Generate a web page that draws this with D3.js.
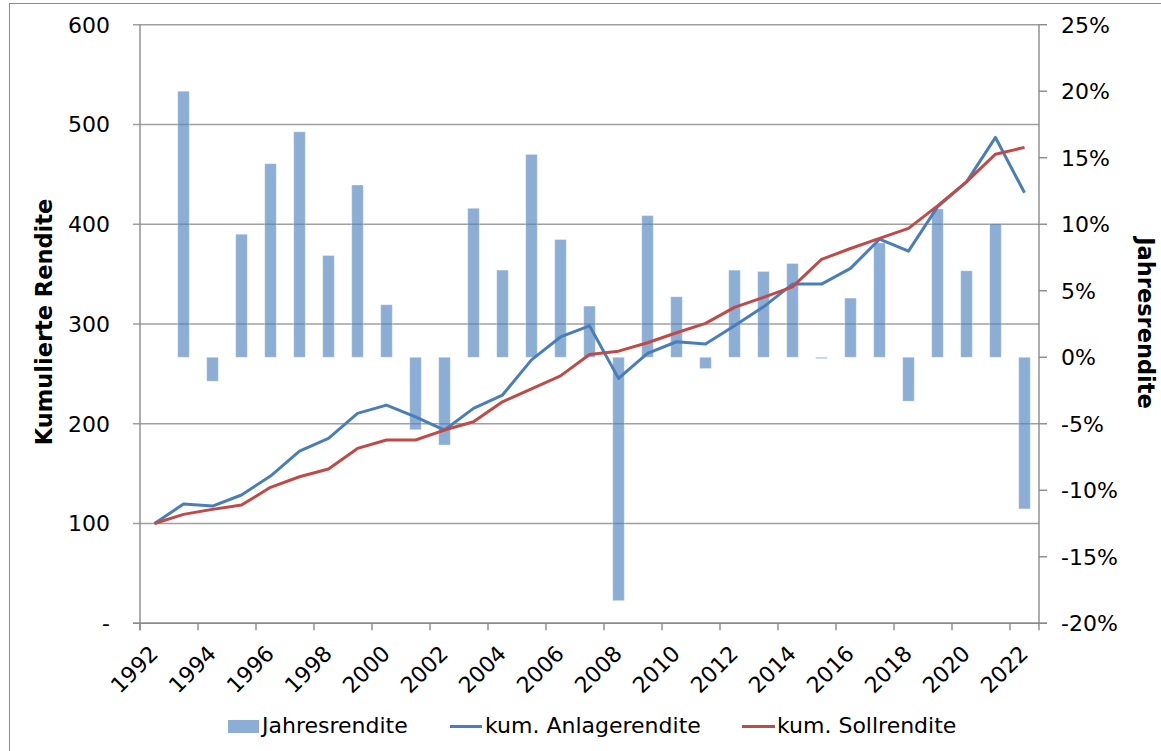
<!DOCTYPE html>
<html>
<head>
<meta charset="utf-8">
<script src="https://cdn.jsdelivr.net/npm/d3@7"></script>
<style>
  body { margin: 0; background: #fff; }
  text { font-family: "DejaVu Sans", Verdana, sans-serif; fill: #000; }
</style>
</head>
<body>
<svg id="chart" width="1161" height="751"></svg>
<script>
// data
var years = d3.range(1992, 2023);
var jahresrendite = [null, 20.0, -1.8, 9.25, 14.55, 16.95, 7.65, 12.95, 3.95, -5.45, -6.6,
  11.2, 6.55, 15.25, 8.85, 3.85, -18.3, 10.65, 4.55, -0.85, 6.55,
  6.45, 7.05, -0.1, 4.45, 8.6, -3.3, 11.15, 6.5, 10.05, -11.4];
var anlagerendite = [100, 119.5, 117.5, 128.6, 147.6, 172.6, 185.3, 210.4, 218.7, 207, 193.7,
  215.4, 228.8, 264, 287, 298.2, 245.5, 270.5, 282.2, 279.9, 298.2,
  317.2, 340, 340, 355.7, 385, 373, 417.4, 442.5, 487, 431.5];
var sollrendite = [100, 109.2, 114.2, 118.5, 136.3, 146.9, 154.6, 175.3, 183.7, 183.7, 193.7,
  202, 222, 235, 248, 269.5, 272.8, 281.2, 291.2, 300.6, 316.6,
  326.7, 337.3, 364.7, 375.7, 385.8, 395.8, 418.4, 442.5, 470.2, 477];
var leftTicks = [0, 100, 200, 300, 400, 500, 600];
var rightTicks = [-20, -15, -10, -5, 0, 5, 10, 15, 20, 25];
var xLabelYears = d3.range(1992, 2023, 2);

var svg = d3.select("#chart");

var plotL = 140, plotR = 1039, plotT = 24.7, plotB = 623.3;
var fs = 22;

var x = d3.scaleBand().domain(years).range([plotL, plotR]).padding(0);
var xEdge = d3.scaleLinear().domain([1992, 2023]).range([plotL, plotR]);
var yL = d3.scaleLinear().domain([0, 600]).range([plotB, plotT]);
var yR = d3.scaleLinear().domain([-20, 25]).range([plotB, plotT]);

// outer frame
svg.append("rect")
    .attr("x", 9.5).attr("y", 3.5)
    .attr("width", 1170).attr("height", 760)
    .attr("fill", "none").attr("stroke", "#8c8c8c").attr("stroke-width", 1);

// gridlines (with the left tick stubs)
svg.append("g")
    .selectAll("line")
    .data(leftTicks)
    .enter().append("line")
    .attr("x1", plotL - 7).attr("x2", plotR)
    .attr("y1", function (d) { return yL(d); })
    .attr("y2", function (d) { return yL(d); })
    .attr("stroke", "#a0a0a0")
    .attr("stroke-width", 1.4);

// bars
var bw = x.bandwidth() * 0.4;
svg.append("g")
    .selectAll("rect")
    .data(years.map(function (yr, i) { return { year: yr, v: jahresrendite[i] }; })
        .filter(function (d) { return d.v !== null; }))
    .enter().append("rect")
    .attr("x", function (d) { return x(d.year) + x.bandwidth() / 2 - bw / 2; })
    .attr("width", bw)
    .attr("y", function (d) { return yR(Math.max(0, d.v)); })
    .attr("height", function (d) { return Math.max(1, Math.abs(yR(d.v) - yR(0))); })
    .attr("fill", "rgba(79,129,189,0.65)")
    .attr("stroke", "rgba(255,255,255,0.35)")
    .attr("stroke-width", 1);

// axis lines
var axisColor = "#8a8a8a";
svg.append("line").attr("x1", plotL).attr("x2", plotL).attr("y1", plotT).attr("y2", plotB + 7)
    .attr("stroke", axisColor).attr("stroke-width", 1.4);
svg.append("line").attr("x1", plotR).attr("x2", plotR).attr("y1", plotT).attr("y2", plotB + 7)
    .attr("stroke", axisColor).attr("stroke-width", 1.4);
svg.append("line").attr("x1", plotL - 7).attr("x2", plotR + 8).attr("y1", plotB).attr("y2", plotB)
    .attr("stroke", axisColor).attr("stroke-width", 1.4);

// x ticks at category edges
svg.append("g")
    .selectAll("line")
    .data(xLabelYears)
    .enter().append("line")
    .attr("x1", function (d) { return xEdge(d); })
    .attr("x2", function (d) { return xEdge(d); })
    .attr("y1", plotB).attr("y2", plotB + 7)
    .attr("stroke", axisColor).attr("stroke-width", 1.4);

// right ticks
svg.append("g")
    .selectAll("line")
    .data(rightTicks)
    .enter().append("line")
    .attr("x1", plotR).attr("x2", plotR + 8)
    .attr("y1", function (d) { return yR(d); })
    .attr("y2", function (d) { return yR(d); })
    .attr("stroke", axisColor).attr("stroke-width", 1.4);

// left labels
svg.append("g")
    .selectAll("text")
    .data(leftTicks)
    .enter().append("text")
    .attr("x", 110)
    .attr("y", function (d) { return yL(d); })
    .attr("dy", "0.36em")
    .attr("text-anchor", "end")
    .attr("font-size", fs)
    .text(function (d) { return d === 0 ? "-" : d; });

// right labels
svg.append("g")
    .selectAll("text")
    .data(rightTicks)
    .enter().append("text")
    .attr("x", 1061)
    .attr("y", function (d) { return yR(d); })
    .attr("dy", "0.36em")
    .attr("font-size", fs)
    .text(function (d) { return d + "%"; });

// x labels
svg.append("g")
    .selectAll("text")
    .data(xLabelYears)
    .enter().append("text")
    .attr("transform", function (d) {
        return "translate(" + (x(d) + x.bandwidth() / 2 + 5) + "," + 655 + ") rotate(-45)";
    })
    .attr("text-anchor", "end")
    .attr("font-size", fs)
    .text(function (d) { return d; });

// lines
var line = function (vals) {
    return d3.line()
        .x(function (d, i) { return x(years[i]) + x.bandwidth() / 2; })
        .y(function (d) { return yL(d); })(vals);
};
svg.append("path").attr("d", line(anlagerendite))
    .attr("fill", "none").attr("stroke", "#4a7ebb").attr("stroke-width", 3)
    .attr("stroke-linejoin", "round");
svg.append("path").attr("d", line(sollrendite))
    .attr("fill", "none").attr("stroke", "#be4b48").attr("stroke-width", 3)
    .attr("stroke-linejoin", "round");

// axis titles
svg.append("text")
    .attr("transform", "translate(52,322) rotate(-90)")
    .attr("text-anchor", "middle")
    .attr("font-size", 22.5).attr("font-weight", "bold")
    .text("Kumulierte Rendite");
svg.append("text")
    .attr("transform", "translate(1138,323) rotate(90)")
    .attr("text-anchor", "middle")
    .attr("font-size", 22.5).attr("font-weight", "bold")
    .text("Jahresrendite");

// legend
var lg = svg.append("g");
lg.append("rect").attr("x", 228).attr("y", 720).attr("width", 31).attr("height", 13)
    .attr("fill", "rgba(79,129,189,0.65)");
lg.append("text").attr("x", 262).attr("y", 733).attr("font-size", fs).text("Jahresrendite");
lg.append("line").attr("x1", 450).attr("x2", 482).attr("y1", 726.5).attr("y2", 726.5)
    .attr("stroke", "#4a7ebb").attr("stroke-width", 3);
lg.append("text").attr("x", 485).attr("y", 733).attr("font-size", fs).text("kum. Anlagerendite");
lg.append("line").attr("x1", 742).attr("x2", 775).attr("y1", 726.5).attr("y2", 726.5)
    .attr("stroke", "#be4b48").attr("stroke-width", 3);
lg.append("text").attr("x", 777).attr("y", 733).attr("font-size", fs).text("kum. Sollrendite");
</script>
</body>
</html>
